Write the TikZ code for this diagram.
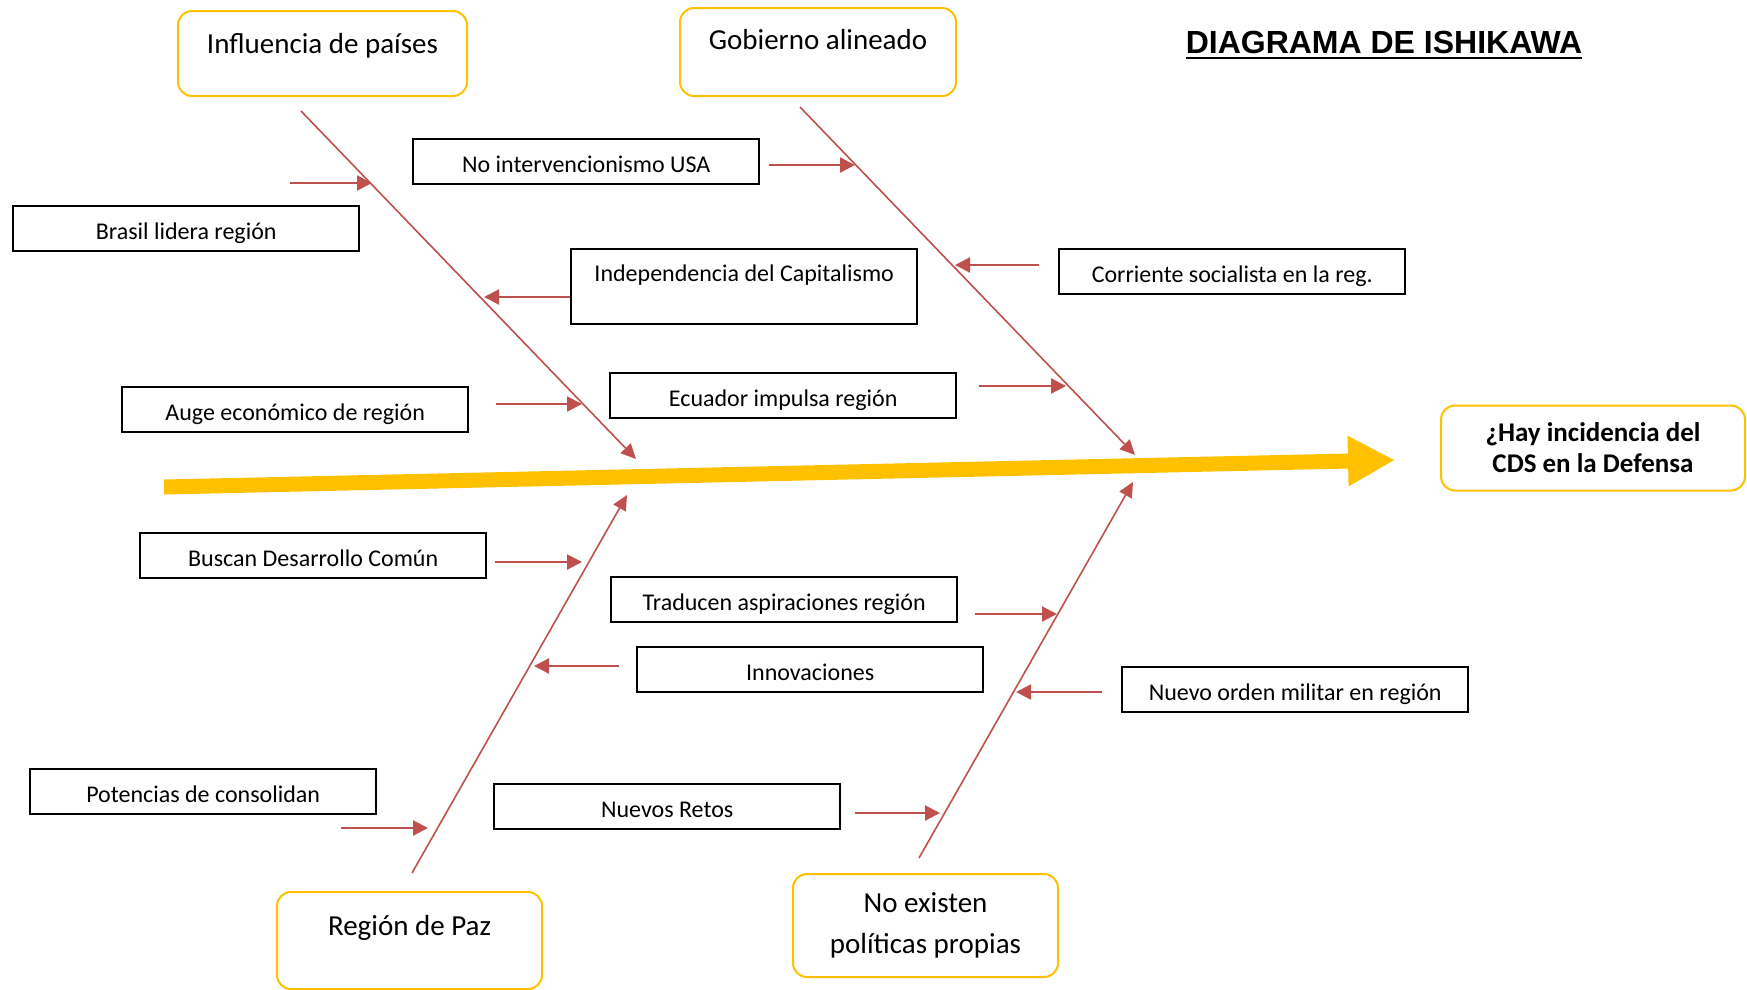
\documentclass[tikz,border=0pt]{standalone}
\usepackage{fontspec}
\setmainfont{Carlito}
\newfontfamily\titlefont{Liberation Sans}
\usepackage{xcolor}
\usetikzlibrary{arrows.meta}
\usetikzlibrary{calc}
\definecolor{cdsyellow}{HTML}{FFC000}
\definecolor{cdsred}{HTML}{C0504D}

\begin{document}
\begin{tikzpicture}[x=1pt,y=-1pt,
  effectbox/.style={draw=cdsyellow,line width=2pt,rounded corners=14pt,inner xsep=0pt,inner ysep=0pt,align=center,font=\fontsize{29}{41}\selectfont},
  causebox/.style={draw=black,line width=2.4pt,minimum width=346pt,inner xsep=0pt,inner ysep=0pt,text height=33pt,text depth=12pt,anchor=north west,font=\fontsize{24}{29}\selectfont},
  bone/.style={draw=cdsred,line width=1.6pt,-{Triangle[length=15pt,width=14pt]}},
  rib/.style={draw=cdsred,line width=2.2pt,-{Triangle[length=15pt,width=15pt]}}]
\useasboundingbox (0,0) rectangle (1747,989);

\node[font=\titlefont\bfseries\fontsize{32}{38}\selectfont,inner sep=0pt,anchor=base] (title) at (1384,53) {DIAGRAMA DE ISHIKAWA};
\draw[line width=2.7pt] ([yshift=-5pt]title.base west) -- ([yshift=-5pt]title.base east);

\node[effectbox,minimum width=289pt,text height=42pt,text depth=43pt,anchor=north west] (paises) at (177,10) {Influencia de países};
\node[effectbox,minimum width=276pt,text height=41pt,text depth=47pt,anchor=north west] (gobierno) at (679,7) {Gobierno alineado};
\node[effectbox,minimum width=265pt,text height=43pt,text depth=54pt,anchor=north west] (paz) at (276,891) {Región de Paz};
\node[effectbox,minimum width=265pt,minimum height=103pt] (politicas) at (925.5,925.5) {No existen\\políticas propias};
\node[effectbox,minimum width=304pt,minimum height=85pt,font=\bfseries\fontsize{27}{31}\selectfont] (efecto) at (1593,448) {¿Hay incidencia del\\CDS en la Defensa};

\node[causebox] (usa) at (412,138) {No intervencionismo USA};
\node[causebox] (brasil) at (12,205) {Brasil lidera región};
\node[causebox,text height=32pt,text depth=43pt] (indep) at (570,248) {Independencia del Capitalismo};
\node[causebox] (auge) at (121,386) {Auge económico de región};
\node[causebox] (ecuador) at (609,372) {Ecuador impulsa región};
\node[causebox] (corriente) at (1058,248) {Corriente socialista en la reg.};
\node[causebox] (buscan) at (139,532) {Buscan Desarrollo Común};
\node[causebox] (traducen) at (610,576) {Traducen aspiraciones región};
\node[causebox] (innov) at (636,646) {Innovaciones};
\node[causebox] (nuevoorden) at (1121,666) {Nuevo orden militar en región};
\node[causebox] (potencias) at (29,768) {Potencias de consolidan};
\node[causebox] (retos) at (493,783) {Nuevos Retos};

\coordinate (spine-s) at (164,487);
\coordinate (spine-e) at (1395,460);
\draw[draw=cdsyellow,line width=15pt,-{Triangle[length=47pt,width=47pt]}] (spine-s) -- (spine-e);

\coordinate (paises-s) at (301,111);
\coordinate (paises-e) at (636,459);
\coordinate (gobierno-s) at (800,107);
\coordinate (gobierno-e) at (1135,455);
\coordinate (paz-s) at (412,873);
\coordinate (paz-e) at (627,495);
\coordinate (politicas-s) at (919,858);
\coordinate (politicas-e) at (1133,482);
\draw[bone] (paises-s) -- (paises-e);
\draw[bone] (gobierno-s) -- (gobierno-e);
\draw[bone] (paz-s) -- (paz-e);
\draw[bone] (politicas-s) -- (politicas-e);

\coordinate (t-brasil) at (372,183);
\coordinate (t-usa) at (855,165);
\coordinate (t-indep) at (484,297);
\coordinate (t-auge) at (582,404);
\coordinate (t-corriente) at (955,265);
\coordinate (t-ecuador) at (1066,386);
\coordinate (t-buscan) at (582,562);
\coordinate (t-innov) at (534,666);
\coordinate (t-potencias) at (428,828);
\coordinate (t-traducen) at (1057,614);
\coordinate (t-nuevoorden) at (1016,692);
\coordinate (t-retos) at (940,813);
\draw[rib] ($(brasil.east |- t-brasil)+(-70,0)$) -- (t-brasil);
\draw[rib] ($(usa.east |- t-usa)+(9,0)$) -- (t-usa);
\draw[rib] (indep.west |- t-indep) -- (t-indep);
\draw[rib] ($(auge.east |- t-auge)+(27,0)$) -- (t-auge);
\draw[rib] ($(corriente.west |- t-corriente)+(-19,0)$) -- (t-corriente);
\draw[rib] ($(ecuador.east |- t-ecuador)+(22,0)$) -- (t-ecuador);
\draw[rib] ($(buscan.east |- t-buscan)+(8,0)$) -- (t-buscan);
\draw[rib] ($(innov.west |- t-innov)+(-17,0)$) -- (t-innov);
\draw[rib] ($(potencias.east |- t-potencias)+(-36,0)$) -- (t-potencias);
\draw[rib] ($(traducen.east |- t-traducen)+(17,0)$) -- (t-traducen);
\draw[rib] ($(nuevoorden.west |- t-nuevoorden)+(-19,0)$) -- (t-nuevoorden);
\draw[rib] ($(retos.east |- t-retos)+(14,0)$) -- (t-retos);
\end{tikzpicture}
\end{document}
